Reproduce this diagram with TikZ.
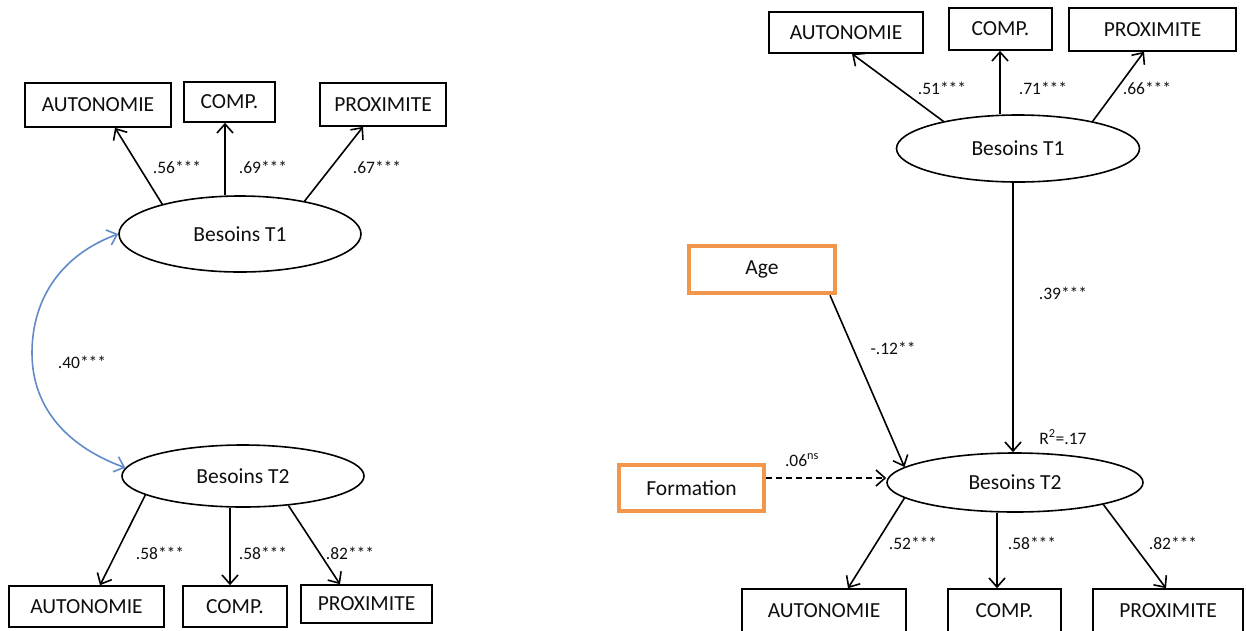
\documentclass[tikz,border=0pt]{standalone}
\usepackage{fontspec}
\setmainfont{Carlito}
\usetikzlibrary{arrows.meta,shapes.geometric}
\definecolor{orng}{RGB}{241,150,75}
\definecolor{bl}{RGB}{95,140,200}
\definecolor{ink}{RGB}{15,15,15}
\begin{document}
\begin{tikzpicture}[x=1pt,y=-1pt,
 obs/.style={draw, line width=1.6pt, inner sep=0pt, text=ink, font=\fontsize{21.5}{24}\selectfont},
 cov/.style={draw=orng, line width=4.5pt, inner sep=0pt, text=ink, font=\fontsize{21.5}{24}\selectfont},
 lat/.style={ellipse, draw, line width=1.6pt, inner sep=0pt, text=ink, font=\fontsize{21.5}{24}\selectfont},
 arr/.style={-{Straight Barb[length=9pt,width=16pt]}, line width=1.6pt},
 barr/.style={{Straight Barb[length=9pt,width=16pt]}-{Straight Barb[length=9pt,width=16pt]}, line width=1.6pt, draw=bl},
 lab/.style={inner sep=0pt, text=ink, font=\fontsize{17.5}{20}\selectfont}]
\useasboundingbox (0,0) rectangle (1246,630);
\clip (0,0) rectangle (1246,630);
% ---------- left model ----------
\node[obs, minimum width=146, minimum height=44] (la1) at (98,105) {AUTONOMIE};
\node[obs, minimum width=91, minimum height=40] (lc1) at (229.5,102) {COMP.};
\node[obs, minimum width=126, minimum height=43] (lp1) at (383,104.5) {PROXIMITE};
\node[lat, minimum width=242, minimum height=76] (lt1) at (240,234) {Besoins T1};
\node[lat, minimum width=242, minimum height=62] (lt2) at (243,476) {Besoins T2};
\node[obs, minimum width=155, minimum height=41] (la2) at (86.5,606.5) {AUTONOMIE};
\node[obs, minimum width=104, minimum height=41] (lc2) at (235,606.5) {COMP.};
\node[obs, minimum width=131, minimum height=38] (lp2) at (366.5,604) {PROXIMITE};
\draw[arr] (lt1.159) -- ([xshift=17pt]la1.south);
\draw[arr] ([xshift=-15pt]lt1.north) -- ([xshift=-15pt]lt1.north |- lc1.south);
\draw[arr] (lt1.27) -- ([xshift=-20pt]lp1.south);
\draw[arr] (lt2.191) -- ([xshift=13.5pt]la2.north);
\draw[arr] ([xshift=-13pt]lt2.south) -- ([xshift=-13pt]lt2.south |- lc2.north);
\draw[arr] (lt2.327) -- ([xshift=-26.5pt]lp2.north);
\node[lab] (l56) at (177,167) {.56***};
\node[lab] (l69) at (263,167) {.69***};
\node[lab] (l67) at (377,167) {.67***};
\node[lab] (l58a) at (160,553) {.58***};
\node[lab] (l58b) at (263,553) {.58***};
\node[lab] (l82) at (350,553) {.82***};
\coordinate (cmid) at (32,353);
\draw[barr] (lt1.west) to[out=200,in=90] (cmid) to[out=-90,in=160] (lt2.176);
\node[lab] (l40) at (82,362) {.40***};
% ---------- right model ----------
\node[obs, minimum width=154, minimum height=41] (ra1) at (846,32.5) {AUTONOMIE};
\node[obs, minimum width=103, minimum height=42] (rc1) at (1000.5,29) {COMP.};
\node[obs, minimum width=167, minimum height=43] (rp1) at (1152.5,29.5) {PROXIMITE};
\node[lat, minimum width=243, minimum height=67] (rt1) at (1018,148.5) {Besoins T1};
\node[cov, minimum width=146, minimum height=47] (age) at (762,269.5) {Age};
\node[cov, minimum width=145, minimum height=46] (form) at (691.5,488) {Formation};
\node[lat, minimum width=256, minimum height=59] (rt2) at (1015,482.5) {Besoins T2};
\node[obs, minimum width=164, minimum height=44] (ra2) at (824,611) {AUTONOMIE};
\node[obs, minimum width=113, minimum height=44] (rc2) at (1004.5,611) {COMP.};
\node[obs, minimum width=150, minimum height=44] (rp2) at (1168,611) {PROXIMITE};
\draw[arr] (rt1.160) -- ([xshift=6pt]ra1.south);
\draw[arr] ([xshift=-18pt]rt1.north) -- ([xshift=-18pt]rt1.north |- rc1.south);
\draw[arr] (rt1.20) -- ([xshift=-8.5pt]rp1.south);
\draw[arr] ([xshift=-5pt]rt1.south) -- ([xshift=-5pt]rt1.south |- rt2.north);
\draw[arr] ([xshift=68pt]age.south) -- (rt2.172);
\draw[arr, dashed, dash pattern=on 6pt off 4pt] ([yshift=10pt]form.east) -- ([yshift=10pt]form.east -| rt2.west);
\draw[arr] (rt2.188) -- ([xshift=24pt]ra2.north);
\draw[arr] ([xshift=-18pt]rt2.south) -- ([xshift=-18pt]rt2.south |- rc2.north);
\draw[arr] (rt2.346) -- ([xshift=-2pt]rp2.north);
\node[lab] (r51) at (942,88) {.51***};
\node[lab] (r71) at (1043,88) {.71***};
\node[lab] (r66) at (1147,88) {.66***};
\node[lab] (r39) at (1063,293) {.39***};
\node[lab] (r12) at (893,348) {-.12**};
\node[lab] (r06) at (802,460) {.06\textsuperscript{ns}};
\node[lab] (rr2) at (1063,437) {R\textsuperscript{2}=.17};
\node[lab] (r52) at (913,543) {.52***};
\node[lab] (r58) at (1032,543) {.58***};
\node[lab] (r82) at (1173,543) {.82***};
\end{tikzpicture}
\end{document}
